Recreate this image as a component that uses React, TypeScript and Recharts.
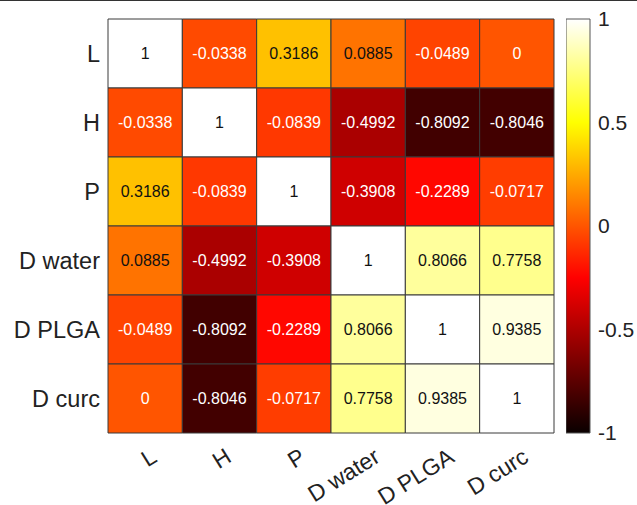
import { ScatterChart, Scatter, XAxis, YAxis, ReferenceArea, BarChart, Bar } from 'recharts';

const labels = ['L', 'H', 'P', 'D water', 'D PLGA', 'D curc'];

const rowL = [1, -0.0338, 0.3186, 0.0885, -0.0489, 0];
const rowH = [-0.0338, 1, -0.0839, -0.4992, -0.8092, -0.8046];
const rowP = [0.3186, -0.0839, 1, -0.3908, -0.2289, -0.0717];
const rowDWater = [0.0885, -0.4992, -0.3908, 1, 0.8066, 0.7758];
const rowDPLGA = [-0.0489, -0.8092, -0.2289, 0.8066, 1, 0.9385];
const rowDCurc = [0, -0.8046, -0.0717, 0.7758, 0.9385, 1];

const matrix = [rowL, rowH, rowP, rowDWater, rowDPLGA, rowDCurc];
const colorbarTicks = [-1, -0.5, 0, 0.5, 1];

// matlab "hot" colormap, value in [-1, 1]
function hot(v: number) {
  const t = Math.max(0, Math.min(1, (v + 1) / 2));
  const r = Math.min(1, t / 0.375);
  const g = Math.max(0, Math.min(1, (t - 0.375) / 0.375));
  const b = Math.max(0, Math.min(1, (t - 0.75) / 0.25));
  return `rgb(${Math.round(r * 255)},${Math.round(g * 255)},${Math.round(b * 255)})`;
}

const cells = matrix.flatMap((row, j) =>
  row.map((v, i) => ({ x: i + 0.5, y: j + 0.5, col: i, row: j, value: v }))
);

const centers = labels.map((_, i) => i + 0.5);
const FONT = 'Helvetica, "Liberation Sans", Arial, sans-serif';

const CellText = (props: any) => {
  const { cx, cy, payload } = props;
  const v = payload.value;
  return (
    <text
      x={cx}
      y={cy}
      textAnchor="middle"
      dominantBaseline="central"
      fontSize={16}
      fontFamily={FONT}
      fill={v > 0 ? '#111' : '#fff'}
    >
      {String(v)}
    </text>
  );
};

const XTick = (props: any) => {
  const { x, y, payload } = props;
  const label = labels[Math.floor(payload.value)];
  return (
    <text
      transform={`translate(${x + 9},${y + 13}) rotate(-32)`}
      textAnchor="end"
      dominantBaseline="central"
      fontSize={23}
      fontFamily={FONT}
      fill="#222"
    >
      {label}
    </text>
  );
};

const YTick = (props: any) => {
  const { x, y, payload } = props;
  const label = labels[Math.floor(payload.value)];
  return (
    <text x={x} y={y} textAnchor="end" dominantBaseline="central" fontSize={23.5} fontFamily={FONT} fill="#222">
      {label}
    </text>
  );
};

const colorbarData = [{ name: 'cb', range: [-1, 1] }];

export default function App() {
  return (
    <div style={{ position: 'absolute', left: 0, top: 0, width: 637, height: 505, background: '#fff', borderTop: '1px solid #333', boxSizing: 'border-box' }}>
      <div style={{ position: 'absolute', left: 0, top: -1 }}>
        <ScatterChart width={637} height={505} margin={{ top: 19, right: 83, bottom: 12, left: 8 }} style={{ overflow: 'visible' }}>
          <XAxis
            type="number"
            dataKey="x"
            domain={[0, 6]}
            ticks={centers}
            tick={<XTick />}
            tickLine={false}
            axisLine={false}
            height={60}
            interval={0}
          />
          <YAxis
            type="number"
            dataKey="y"
            domain={[0, 6]}
            reversed
            ticks={centers}
            tick={<YTick />}
            tickLine={false}
            axisLine={false}
            width={100}
            interval={0}
          />
          {cells.map((c) => (
            <ReferenceArea
              key={`${c.row}-${c.col}`}
              x1={c.col}
              x2={c.col + 1}
              y1={c.row}
              y2={c.row + 1}
              fill={hot(c.value)}
              fillOpacity={1}
              stroke="#3a3a3a"
              strokeWidth={1}
            />
          ))}
          <Scatter data={cells} shape={<CellText />} isAnimationActive={false} />
        </ScatterChart>
      </div>
      <div style={{ position: 'absolute', left: 566, top: -1 }}>
        <BarChart width={71} height={505} data={colorbarData} margin={{ top: 19, right: 0, bottom: 72, left: 0 }} barCategoryGap={0}>
          <defs>
            <linearGradient id="hotGrad" x1="0" y1="1" x2="0" y2="0">
              <stop offset="0%" stopColor="rgb(10,0,0)" />
              <stop offset="37.5%" stopColor="rgb(255,0,0)" />
              <stop offset="75%" stopColor="rgb(255,255,0)" />
              <stop offset="100%" stopColor="rgb(255,255,255)" />
            </linearGradient>
          </defs>
          <XAxis dataKey="name" hide />
          <YAxis
            orientation="right"
            domain={[-1, 1]}
            ticks={colorbarTicks}
            tickFormatter={(v: number) => String(v)}
            width={47}
            axisLine={false}
            tickLine={false}
            tickSize={5}
            tickMargin={3}
            tick={{ fontSize: 21, fill: '#222', fontFamily: FONT, textAnchor: 'start' }}
          />
          <Bar dataKey="range" fill="url(#hotGrad)" stroke="#555" strokeWidth={1} isAnimationActive={false} />
        </BarChart>
      </div>
    </div>
  );
}
